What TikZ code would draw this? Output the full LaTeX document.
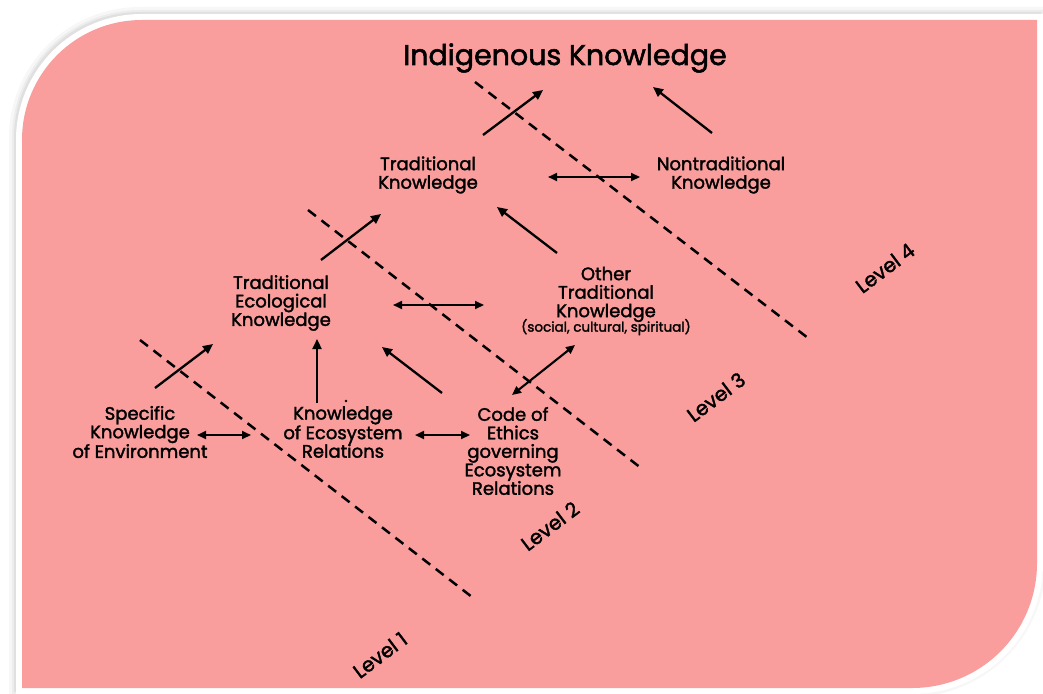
\documentclass[tikz,border=0pt]{standalone}
\usepackage{fontspec}
\setmainfont{Poppins}[FakeBold=1.8]
\usetikzlibrary{arrows.meta}

\definecolor{panelpink}{RGB}{249,158,157}

\tikzset{
  lbl/.style={align=center, inner sep=0pt, font=\fontsize{18}{18.5}\selectfont},
  title/.style={inner sep=0pt, font=\fontsize{28.5}{32}\selectfont},
  levellbl/.style={inner sep=0pt, rotate=37, font=\fontsize{20}{22}\selectfont},
  arr/.style={-{Triangle[length=10pt,width=9pt]}, line width=2.3pt},
  darr/.style={{Triangle[length=9pt,width=8pt]}-{Triangle[length=9pt,width=8pt]}, line width=2.1pt},
  levelline/.style={dash pattern=on 10pt off 7pt, line width=2.5pt},
}

\begin{document}
\begin{tikzpicture}[x=1pt, y=-1pt]
	\useasboundingbox (0,0) rectangle (1043,693);
	\fill[white] (0,0) rectangle (1043,693);
	
	% panel: shadow, white rim, pink face
	\foreach \w/\o in {22/0.03, 16/0.04, 12/0.05}
	\draw[black, opacity=\o, line width=\w pt, shift={(-2,-2)}] (22,688) -- (22,140) to[out=90,in=180] (142,20) -- (1037,20) -- (1037,563) to[out=-90,in=0] (912,688) -- cycle;
	\draw[white, line width=12pt] (22,688) -- (22,140) to[out=90,in=180] (142,20) -- (1037,20) -- (1037,563) to[out=-90,in=0] (912,688) -- cycle;
	\fill[panelpink] (22,688) -- (22,140) to[out=90,in=180] (142,20) -- (1037,20) -- (1037,563) to[out=-90,in=0] (912,688) -- cycle;
	
	% knowledge boxes
	\node[title] (ik) at (565,58) {Indigenous Knowledge};
	\node[lbl] (tk) at (428,175) {Traditional\\Knowledge};
	\node[lbl] (ntk) at (721,175) {Nontraditional\\Knowledge};
	\node[lbl] (tek) at (281,303) {Traditional\\Ecological\\Knowledge};
	\node[lbl] (otk) at (606,301) {Other\\Traditional\\Knowledge\\[-4pt]{\fontsize{13.5}{14}\selectfont(social, cultural, spiritual)}};
	\node[lbl] (sek) at (140,432) {Specific\\Knowledge\\of Environment};
	\node[lbl] (ker) at (343,432) {Knowledge\\of Ecosystem\\Relations};
	\node[lbl] (coe) at (513,451) {Code of\\Ethics\\governing\\Ecosystem\\Relations};
	\fill (346,401) circle (1.3);
	
	% level borders
	\draw[levelline] (140,340) -- (472,597);
	\draw[levelline] (308,210) -- (641,468);
	\draw[levelline] (475,82) -- (808,338);
	\node[levellbl] (lv1) at (380,655) {Level 1};
	\node[levellbl] (lv2) at (550,526) {Level 2};
	\node[levellbl] (lv3) at (716,397) {Level 3};
	\node[levellbl] (lv4) at (885,268) {Level 4};
	
	% upward links
	\draw[arr] ([shift={(15,-44)}]sek.center) -- ([shift={(-68,41)}]tek.center);
	\draw[arr] ([shift={(40,-43)}]tek.center) -- ([shift={(-47,39)}]tk.center);
	\draw[arr] ([shift={(55,-40)}]tk.center) -- ([shift={(-22,32)}]ik.center);
	\draw[arr] ([shift={(-9,-42)}]ntk.center) -- ([shift={(88,29)}]ik.center);
	\draw[arr] ([shift={(-49,-48)}]otk.center) -- ([shift={(69,32)}]tk.center);
	\draw[arr] ([shift={(-26,-29)}]ker.center) -- ([shift={(36,36)}]tek.center);
	\draw[arr] ([shift={(-71,-58)}]coe.center) -- ([shift={(101,44)}]tek.center);
	
	% two-way links
	\draw[darr] ([shift={(57,3)}]sek.center) -- ([shift={(-92,3)}]ker.center);
	\draw[darr] ([shift={(72,3)}]ker.center) -- ([shift={(-43,-16)}]coe.center);
	\draw[darr] ([shift={(112,2)}]tek.center) -- ([shift={(-122,4)}]otk.center);
	\draw[darr] ([shift={(120,2)}]tk.center) -- ([shift={(-81,2)}]ntk.center);
	\draw[darr] ([shift={(-1,-56)}]coe.center) -- ([shift={(-31,44)}]otk.center);
\end{tikzpicture}
\end{document}
